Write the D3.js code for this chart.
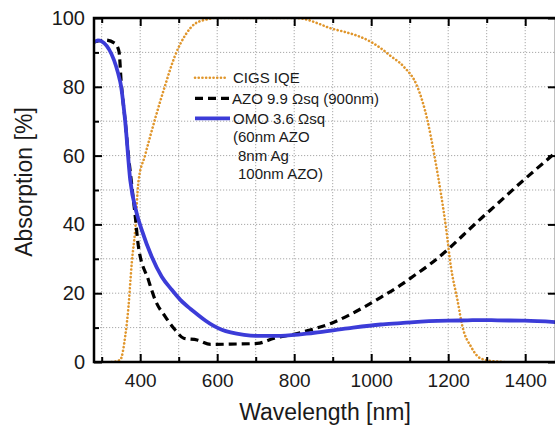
<!DOCTYPE html>
<html>
<head>
<meta charset="utf-8">
<script src="https://cdn.jsdelivr.net/npm/d3@7"></script>
<style>
  body { margin: 0; background: #fff; }
  svg { display: block; font-family: "Liberation Sans", Arial, sans-serif; }
</style>
</head>
<body>
<div id="chart"></div>
<script>
// wavelength (nm) / value (%) pairs
var omoWl  = [281, 290, 300, 348, 361, 374, 391, 404, 430, 456, 482, 505, 530, 548, 570, 591, 612, 635, 670, 704, 765, 852, 939, 1025, 1077, 1112, 1199, 1250, 1286, 1328, 1399, 1480];
var omoVal = [93, 93.5, 93.2, 81.5, 70, 53, 43.2, 38.4, 30.6, 24.8, 21, 18, 15.5, 13.9, 12, 10.5, 9.4, 8.6, 7.9, 7.6, 7.6, 8.5, 9.8, 10.9, 11.3, 11.6, 12, 12.1, 12.2, 12.1, 12, 11.6];

var azoWl  = [281, 309, 335, 345, 350.5, 361, 369.5, 378, 387, 395.5, 421.5, 439, 465, 491, 513, 548, 583, 635, 704, 748, 808, 850, 895, 940, 982, 1025, 1077, 1110, 1156, 1207, 1240, 1286, 1328, 1380, 1430, 1480];
var azoVal = [93, 93.6, 92.6, 90.2, 81.5, 70, 60, 51.5, 42.5, 33.5, 23.8, 18, 13.2, 9.3, 6.9, 6.4, 5.1, 5.2, 5.4, 6.9, 8.3, 9.6, 11.2, 13.5, 16, 18.8, 22.4, 25, 28.7, 33.5, 37, 41.8, 46, 51.3, 56.2, 61];

var iqeWl  = [326, 348, 361, 369.5, 378, 387, 395.5, 413, 439, 465, 491, 517, 543, 578, 590, 650, 720, 800, 834, 860, 895, 930, 965, 1000, 1025, 1050, 1085, 1120, 1146, 1163, 1181, 1194, 1207, 1224, 1237, 1259, 1285, 1328, 1347];
var iqeVal = [0, 0.6, 7.4, 16, 28.7, 38.4, 52.5, 60.2, 70.8, 80.5, 89.2, 95, 98.4, 99.7, 100, 100, 100, 100, 99.5, 98.5, 97, 96, 94.8, 93, 91.2, 89, 85.8, 80, 70.3, 60.7, 49, 39.3, 27.7, 18, 10.3, 4.5, 1, 0.1, 0];

var xMajor = [400, 600, 800, 1000, 1200, 1400];
var xMinor = [300, 500, 700, 900, 1100, 1300];
var yMajor = [0, 20, 40, 60, 80, 100];
var yMinor = [10, 30, 50, 70, 90];

var width = 555, height = 428;
var m = {left: 94, right: 556, top: 18, bottom: 362};

var svg = d3.select("#chart").append("svg")
    .attr("width", width)
    .attr("height", height);

var x = d3.scaleLinear().domain([280, 1480]).range([m.left, m.right]);
var y = d3.scaleLinear().domain([0, 100]).range([m.bottom, m.top]);

// dotted grid
var grid = svg.append("g").attr("class", "grid")
    .attr("stroke", "#a8a8a8").attr("stroke-width", 1).attr("stroke-dasharray", "1.2,1.8");
grid.selectAll(".gx").data(xMajor.concat(xMinor)).enter().append("line")
    .attr("x1", function(d) { return x(d); }).attr("x2", function(d) { return x(d); })
    .attr("y1", m.top).attr("y2", m.bottom);
grid.selectAll(".gy").data(yMajor.concat(yMinor).filter(function(d) { return d > 0 && d < 100; })).enter().append("line")
    .attr("y1", function(d) { return y(d); }).attr("y2", function(d) { return y(d); })
    .attr("x1", m.left).attr("x2", m.right);

svg.append("clipPath").attr("id", "plotclip")
    .append("rect").attr("x", m.left).attr("y", m.top)
    .attr("width", m.right - m.left).attr("height", m.bottom - m.top);

function toPts(wl, v) { return wl.map(function(d, i) { return [d, v[i]]; }); }

var line = d3.line()
    .x(function(d) { return x(d[0]); })
    .y(function(d) { return y(d[1]); })
    .curve(d3.curveMonotoneX);

var plot = svg.append("g").attr("clip-path", "url(#plotclip)");

var iqeColor = "#e0962c", omoColor = "#3c3cd8";

plot.append("path").datum(toPts(iqeWl, iqeVal))
    .attr("fill", "none").attr("stroke", iqeColor).attr("stroke-width", 2.6)
    .attr("stroke-linecap", "round").attr("stroke-dasharray", "0.1,3.6")
    .attr("d", line);

plot.append("path").datum(toPts(azoWl, azoVal))
    .attr("fill", "none").attr("stroke", "#000").attr("stroke-width", 3.2)
    .attr("stroke-dasharray", "8,5")
    .attr("d", line);

plot.append("path").datum(toPts(omoWl, omoVal))
    .attr("fill", "none").attr("stroke", omoColor).attr("stroke-width", 3.8)
    .attr("d", line);

// axes, ticks pointing inward
function styleAxis(g) {
    g.select(".domain").remove();
    g.selectAll(".tick line").attr("stroke", "#000").attr("stroke-width", 2);
    g.selectAll("text").attr("fill", "#1a1a1a");
}

svg.append("g").attr("transform", "translate(0," + m.bottom + ")")
    .call(d3.axisBottom(x).tickValues(xMajor).tickSize(-8).tickPadding(12).tickFormat(d3.format("d")))
    .call(styleAxis)
    .selectAll("text").style("font-size", "19px");
svg.append("g").attr("transform", "translate(0," + m.bottom + ")")
    .call(d3.axisBottom(x).tickValues(xMinor).tickSize(-5).tickFormat(""))
    .call(styleAxis);
svg.append("g").attr("transform", "translate(0," + m.top + ")")
    .call(d3.axisTop(x).tickValues(xMajor).tickSize(-8).tickFormat(""))
    .call(styleAxis);
svg.append("g").attr("transform", "translate(0," + m.top + ")")
    .call(d3.axisTop(x).tickValues(xMinor).tickSize(-5).tickFormat(""))
    .call(styleAxis);

svg.append("g").attr("transform", "translate(" + m.left + ",0)")
    .call(d3.axisLeft(y).tickValues(yMajor).tickSize(-8).tickPadding(9))
    .call(styleAxis)
    .selectAll("text").style("font-size", "20px");
svg.append("g").attr("transform", "translate(" + m.left + ",0)")
    .call(d3.axisLeft(y).tickValues(yMinor).tickSize(-5).tickFormat(""))
    .call(styleAxis);
svg.append("g").attr("transform", "translate(" + m.right + ",0)")
    .call(d3.axisRight(y).tickValues(yMajor).tickSize(-8).tickFormat(""))
    .call(styleAxis);

svg.append("rect")
    .attr("x", m.left).attr("y", m.top).attr("width", m.right - m.left).attr("height", m.bottom - m.top)
    .attr("fill", "none").attr("stroke", "#000").attr("stroke-width", 2.5);

// axis titles
svg.append("text")
    .attr("x", (m.left + m.right) / 2).attr("y", 420)
    .attr("text-anchor", "middle").style("font-size", "23px").attr("fill", "#1a1a1a")
    .text("Wavelength [nm]");
svg.append("text")
    .attr("transform", "translate(32,182) rotate(-90)")
    .attr("text-anchor", "middle").style("font-size", "23px").attr("fill", "#1a1a1a")
    .text("Absorption [%]");

// legend
var legend = svg.append("g").style("font-size", "15px").attr("fill", "#1a1a1a");
legend.append("line").attr("x1", 195).attr("x2", 227).attr("y1", 77.7).attr("y2", 77.7)
    .attr("stroke", iqeColor).attr("stroke-width", 2.6).attr("stroke-linecap", "round").attr("stroke-dasharray", "0.1,3.6");
legend.append("line").attr("x1", 195).attr("x2", 231).attr("y1", 98.3).attr("y2", 98.3)
    .attr("stroke", "#000").attr("stroke-width", 3.2).attr("stroke-dasharray", "8,5");
legend.append("line").attr("x1", 195).attr("x2", 230).attr("y1", 118.3).attr("y2", 118.3)
    .attr("stroke", omoColor).attr("stroke-width", 3.8);

var legendRows = [
    ["CIGS IQE", 233, 83],
    ["AZO 9.9 \u03A9sq (900nm)", 232, 103.5],
    ["OMO 3.6 \u03A9sq", 233, 123.5],
    ["(60nm AZO", 233, 142],
    ["8nm Ag", 238, 160.5],
    ["100nm AZO)", 238, 179]
];
legend.selectAll(".lt").data(legendRows).enter().append("text")
    .attr("x", function(d) { return d[1]; })
    .attr("y", function(d) { return d[2]; })
    .text(function(d) { return d[0]; });
</script>
</body>
</html>
